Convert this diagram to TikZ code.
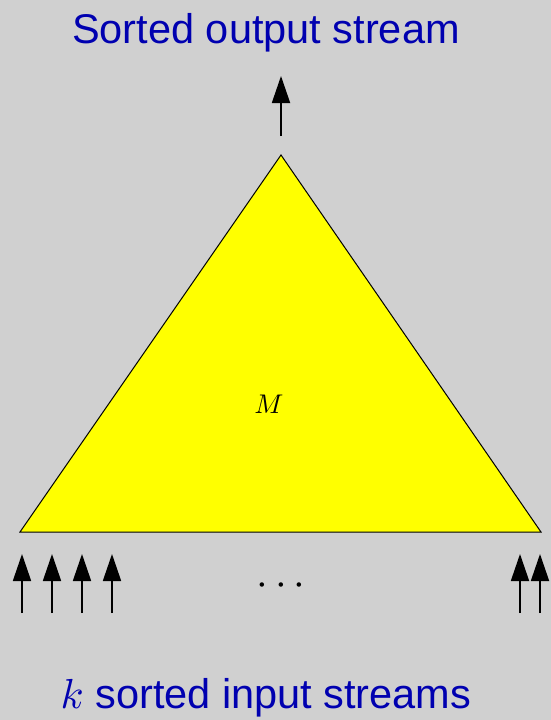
\documentclass[tikz,border=0pt]{standalone}
\usepackage{fontspec}
\setmainfont{Liberation Sans}
\usetikzlibrary{arrows.meta}
\definecolor{bgray}{RGB}{208,208,208}
\definecolor{tblue}{RGB}{0,0,176}
\definecolor{tyellow}{RGB}{255,255,0}
\newcommand{\tenmath}[2]{\scalebox{#1}{\fontsize{10}{12}\selectfont$#2$}}
\tikzset{
  flow/.style={line width=1.8pt,-{Triangle[length=27pt,width=18pt]}},
  label/.style={text=tblue,font=\fontsize{41.5}{44}\selectfont,inner sep=0pt,anchor=base},
}
\begin{document}
\begin{tikzpicture}[x=1pt,y=-1pt]
\fill[bgray] (0,0) rectangle (551,720);
\useasboundingbox (0,0) rectangle (551,720);
\coordinate (apex) at (281,155);
\coordinate (bl) at (20,532);
\coordinate (br) at (541,532);
\filldraw[fill=tyellow,draw=black,line width=1pt] (apex) -- (bl) -- (br) -- cycle;
\node (m) at (269,404) {\tenmath{2.7}{M}};
\node[label] (title) at (266,43) {Sorted output stream};
\node[label] (bottom) at (266,708) {\tenmath{4.2}{k} sorted input streams};
\coordinate (o0) at (281,136);
\coordinate (o1) at (281,76);
\draw[flow] (o0) -- (o1);
\foreach \i/\x in {1/22,2/52,3/82,4/112,5/520,6/540}{
  \coordinate (s\i) at (\x,613);
  \coordinate (t\i) at (\x,554);
  \draw[flow] (s\i) -- (t\i);
}
\node (dots) at (281,586) {\tenmath{4.2}{\cdots}};
\end{tikzpicture}
\end{document}
